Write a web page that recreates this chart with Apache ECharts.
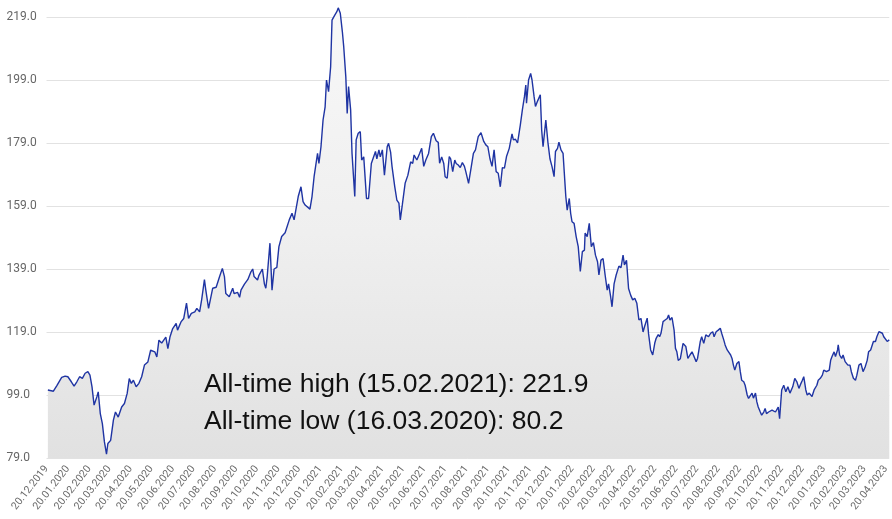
<!DOCTYPE html>
<html>
<head>
<meta charset="utf-8">
<style>
  html, body { margin: 0; padding: 0; background: #fff; }
  #chart { width: 892px; height: 519px; }
</style>
<script src="https://cdn.jsdelivr.net/npm/echarts@6/dist/echarts.min.js"></script>
</head>
<body>
<div id="chart"></div>
<script>
// index price. x = days after 20.12.2019
const startDay = Date.UTC(2019, 11, 20);
const lastDay = 1222; // ~25.04.2023

const dayOffsets = [
  2, 10, 15, 22, 27, 31, 36, 40, 44, 48,
  52, 56, 60, 63, 66, 69, 73, 75, 78, 81,
  84, 87, 89, 93, 97, 100, 104, 109, 113, 117,
  120, 123, 126, 130, 134, 138, 142, 147, 151, 157,
  160, 163, 167, 173, 176, 179, 183, 188, 190, 195,
  199, 203, 206, 210, 215, 218, 222, 225, 229, 231,
  235, 241, 246, 251, 255, 258, 260, 265, 270, 272,
  277, 280, 282, 287, 292, 296, 299, 301, 306, 308,
  313, 316, 318, 320, 324, 327, 330, 334, 337, 341,
  346, 352, 356, 359, 365, 369, 372, 375, 382, 385,
  388, 393, 395, 398, 401, 404, 406, 409, 412, 414,
  418, 421, 423, 426, 429, 431, 434, 436, 438, 441,
  443, 447, 449, 452, 455, 457, 460, 464, 467, 471,
  477, 479, 482, 484, 487, 490, 494, 496, 499, 501,
  505, 508, 511, 513, 516, 518, 520, 524, 528, 531,
  533, 537, 541, 544, 547, 550, 554, 558, 561, 565,
  568, 570, 573, 576, 578, 581, 584, 586, 589, 592,
  594, 597, 600, 603, 606, 608, 612, 616, 619, 622,
  626, 630, 634, 637, 640, 643, 646, 649, 652, 655,
  658, 661, 664, 667, 671, 675, 677, 680, 683, 687,
  690, 693, 695, 696, 699, 702, 704, 707, 709, 712,
  716, 718, 720, 724, 727, 730, 733, 736, 738, 741,
  743, 746, 749, 753, 755, 758, 760, 762, 765, 768,
  771, 774, 777, 780, 781, 784, 787, 790, 793, 796,
  799, 801, 804, 807, 810, 813, 815, 818, 820, 823,
  826, 830, 833, 836, 838, 841, 844, 847, 850, 853,
  856, 859, 862, 865, 867, 871, 873, 876, 879, 882,
  884, 887, 889, 891, 894, 897, 900, 902, 904, 907,
  910, 912, 914, 916, 919, 923, 925, 927, 930, 933,
  936, 938, 942, 944, 948, 950, 953, 956, 960, 963,
  966, 968, 971, 974, 977, 979, 982, 984, 987, 989,
  992, 994, 996, 998, 1001, 1004, 1006, 1008, 1011, 1013,
  1016, 1018, 1020, 1023, 1025, 1028, 1030, 1032, 1035, 1037,
  1040, 1042, 1044, 1047, 1049, 1052, 1054, 1057, 1061, 1063,
  1066, 1069, 1072, 1075, 1078, 1082, 1085, 1088, 1091, 1094,
  1096, 1098, 1101, 1103, 1106, 1108, 1110, 1113, 1117, 1119,
  1122, 1125, 1127, 1131, 1135, 1137, 1139, 1142, 1144, 1147,
  1148, 1150, 1153, 1155, 1158, 1160, 1162, 1165, 1167, 1170,
  1173, 1175, 1178, 1181, 1184, 1187, 1190, 1192, 1195, 1199,
  1202, 1204, 1207, 1209, 1212, 1214, 1216, 1219, 1222
];

const prices = [
  100.6, 100.2, 102.0, 104.6, 105.0, 104.8, 103.2, 101.8, 103.2, 104.8,
  104.3, 105.9, 106.4, 105.3, 101.6, 95.8, 98.4, 100.0, 93.1, 89.9,
  84.1, 80.2, 83.6, 84.6, 91.0, 93.6, 92.0, 95.2, 96.3, 99.5,
  104.2, 102.7, 103.7, 101.6, 102.7, 104.8, 108.5, 109.5, 113.2, 112.7,
  111.1, 116.4, 115.5, 117.4, 113.7, 117.4, 120.1, 121.7, 119.6, 122.2,
  123.3, 128.2, 123.3, 124.9, 125.4, 126.5, 125.4, 129.3, 135.6, 132.3,
  126.5, 132.9, 133.2, 136.6, 139.2, 136.6, 131.2, 130.2, 132.9, 131.2,
  131.6, 130.0, 132.3, 134.2, 135.7, 137.9, 139.0, 136.6, 135.5, 137.0,
  139.0, 134.2, 132.9, 136.6, 147.2, 132.3, 139.0, 139.5, 146.1, 149.3,
  150.5, 154.6, 156.7, 154.6, 162.0, 165.1, 160.4, 159.3, 158.0, 162.0,
  168.3, 175.7, 172.5, 177.8, 186.3, 190.5, 199.0, 195.3, 203.2, 218.0,
  219.6, 220.7, 221.9, 220.2, 214.3, 209.5, 200.0, 188.4, 196.9, 189.5,
  175.7, 162.0, 180.0, 182.1, 182.6, 173.6, 174.6, 161.4, 161.4, 172.5,
  176.3, 174.0, 176.8, 174.6, 176.8, 168.8, 177.8, 178.9, 176.0, 171.6,
  165.1, 160.9, 159.9, 154.6, 159.5, 160.0, 166.2, 168.8, 173.0, 172.5,
  175.2, 173.6, 175.7, 177.3, 171.6, 173.6, 175.7, 181.0, 182.1, 179.7,
  179.2, 172.6, 174.6, 172.5, 168.3, 167.8, 174.7, 174.0, 169.9, 173.6,
  172.5, 172.0, 171.2, 172.8, 171.6, 169.9, 166.2, 171.6, 175.7, 176.8,
  181.0, 182.3, 179.5, 178.4, 177.8, 174.0, 171.6, 176.8, 169.9, 169.4,
  165.1, 171.2, 171.0, 174.7, 177.3, 181.9, 180.0, 180.2, 179.0, 184.7,
  189.5, 193.7, 197.4, 191.6, 199.0, 201.1, 199.0, 193.7, 190.6, 192.3,
  194.3, 183.1, 177.8, 186.3, 179.3, 174.0, 171.5, 168.3, 176.3, 177.3,
  179.3, 176.8, 175.7, 162.0, 157.7, 161.4, 156.7, 154.0, 153.5, 149.3,
  146.1, 138.2, 144.5, 145.0, 150.4, 149.3, 153.5, 146.1, 147.4, 143.4,
  141.3, 137.1, 141.8, 142.3, 137.1, 132.3, 134.3, 130.2, 127.0, 134.3,
  137.1, 139.9, 139.4, 143.4, 140.3, 141.8, 132.8, 130.7, 129.2, 129.7,
  128.1, 122.8, 123.3, 119.0, 120.6, 123.4, 118.4, 113.3, 111.7, 115.5,
  117.0, 118.2, 117.5, 118.6, 122.3, 122.8, 123.3, 124.4, 122.8, 123.6,
  119.6, 113.8, 112.7, 110.0, 110.5, 115.4, 116.0, 114.4, 110.6, 111.7,
  112.7, 112.2, 109.6, 110.6, 116.0, 117.5, 115.4, 118.1, 117.5, 118.6,
  119.1, 117.5, 119.1, 119.6, 120.2, 118.6, 116.5, 114.9, 113.3, 113.8,
  111.7, 110.6, 108.5, 106.9, 109.0, 109.6, 106.4, 103.7, 103.2, 102.1,
  99.0, 97.9, 97.4, 99.6, 98.0, 99.6, 96.8, 95.2, 93.6, 92.6,
  93.6, 94.7, 93.1, 93.6, 93.1, 94.2, 94.7, 93.6, 95.2, 91.5,
  100.6, 102.1, 100.0, 101.6, 99.6, 101.6, 104.3, 103.2, 101.1, 102.7,
  103.7, 104.8, 100.6, 99.0, 99.6, 99.0, 98.5, 100.6, 102.1, 103.7,
  104.3, 105.3, 106.9, 106.4, 106.9, 110.0, 111.2, 112.7, 111.2, 113.3,
  114.9, 111.7, 110.6, 111.7, 109.6, 110.1, 108.5, 108.5, 106.4, 104.3,
  103.7, 105.3, 108.5, 109.0, 106.4, 107.9, 110.0, 112.7, 113.3, 116.0,
  116.0, 117.5, 119.1, 119.6, 118.6, 117.5, 117.0, 116.0, 116.5
];

const notes = [
  'All-time high (15.02.2021): 221.9',
  'All-time low (16.03.2020): 80.2'
];

const yMin = 79, yMax = 219, yStep = 20;

function fmtDate(ms) {
  const d = new Date(ms);
  const dd = String(d.getUTCDate()).padStart(2, '0');
  const mm = String(d.getUTCMonth() + 1).padStart(2, '0');
  return dd + '.' + mm + '.' + d.getUTCFullYear();
}

const days = [];
for (let i = 0; i <= lastDay; i++) days.push(fmtDate(startDay + i * 86400000));

const chart = echarts.init(document.getElementById('chart'), null, { renderer: 'canvas' });

chart.setOption({
  animation: false,
  backgroundColor: '#ffffff',
  grid: { left: 46.5, right: 0, top: 17, bottom: 61 },
  xAxis: {
    type: 'category',
    data: days,
    boundaryGap: false,
    axisLine: { show: false },
    axisTick: { show: false },
    splitLine: { show: false },
    axisLabel: {
      interval: (idx, val) => val.slice(0, 2) === '20',
      rotate: 52,
      margin: 9,
      color: '#6a6a6a',
      fontSize: 10.5,
      fontFamily: 'Roboto'
    }
  },
  yAxis: {
    type: 'value',
    min: yMin,
    max: yMax,
    interval: yStep,
    axisLine: { show: false },
    axisTick: { show: false },
    splitLine: { lineStyle: { color: '#e2e2e2', width: 1 } },
    axisLabel: {
      formatter: (v) => v.toFixed(1),
      align: 'left',
      margin: 40,
      color: '#666',
      fontSize: 12,
      fontFamily: 'Roboto'
    }
  },
  series: [{
    type: 'line',
    data: dayOffsets.map((d, i) => [d, prices[i]]),
    showSymbol: false,
    clip: false,
    lineStyle: { color: '#1f34a3', width: 1.4 },
    itemStyle: { color: '#1f34a3' },
    areaStyle: {
      opacity: 1,
      color: new echarts.graphic.LinearGradient(0, 0, 0, 1, [
        { offset: 0, color: '#f8f8f8' },
        { offset: 0.5, color: '#efefef' },
        { offset: 1, color: '#e1e1e1' }
      ])
    }
  }],
  graphic: notes.map((t, i) => ({
    type: 'text',
    left: 204,
    top: 371 + i * 37,
    z: 100,
    style: {
      text: t,
      fill: '#111',
      fontSize: 26.5,
      fontFamily: '"Liberation Sans", Arial, sans-serif'
    }
  }))
});
</script>
</body>
</html>
